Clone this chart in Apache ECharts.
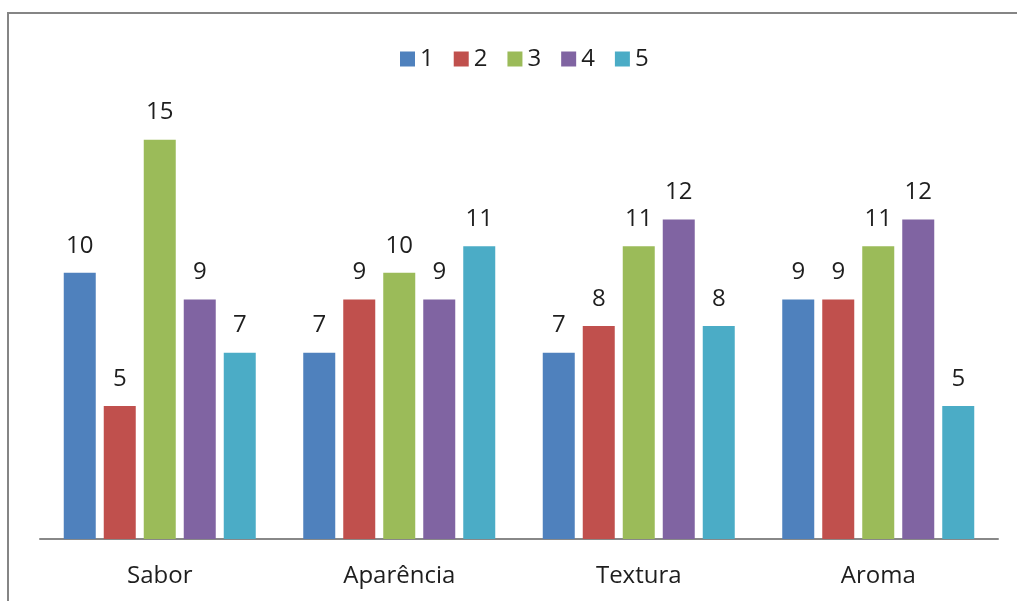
<!DOCTYPE html>
<html>
<head>
<meta charset="utf-8">
<script src="https://cdn.jsdelivr.net/npm/echarts@6/dist/echarts.min.js"></script>
<style>
html,body{margin:0;padding:0;background:#fff;}
#chart{width:1017px;height:601px;}
</style>
</head>
<body>
<div id="chart"></div>
<script>
var categories = ['Sabor', 'Aparência', 'Textura', 'Aroma'];
var seriesNames = ['1', '2', '3', '4', '5'];
var s1 = [10, 7, 7, 9];
var s2 = [5, 9, 8, 9];
var s3 = [15, 10, 11, 11];
var s4 = [9, 9, 12, 12];
var s5 = [7, 11, 8, 5];
var colors = ['#4F81BD', '#C0504D', '#9BBB59', '#8064A2', '#4BACC6'];

var allValues = [s1, s2, s3, s4, s5];
var FONT = 'Open Sans';

var chart = echarts.init(document.getElementById('chart'), null, {renderer: 'canvas'});
chart.setOption({
  animation: false,
  color: colors,
  textStyle: {fontFamily: FONT},
  graphic: [{
    type: 'rect',
    shape: {x: 8, y: 13, width: 1200, height: 800},
    style: {fill: 'none', stroke: '#858585', lineWidth: 2},
    silent: true,
    z: 100
  }],
  legend: {
    data: seriesNames,
    left: 400,
    top: 47,
    padding: 0,
    itemWidth: 15,
    itemHeight: 15,
    itemGap: 20,
    icon: 'rect',
    textStyle: {fontFamily: FONT, fontSize: 24, color: '#1e1e1e', padding: [0, 0, 0, 0]}
  },
  grid: {left: 40, right: 19, top: 113, bottom: 62, containLabel: false},
  xAxis: {
    type: 'category',
    data: categories,
    axisLine: {lineStyle: {color: '#888', width: 2}},
    axisTick: {show: false},
    axisLabel: {fontFamily: FONT, fontSize: 24, color: '#1e1e1e', margin: 25}
  },
  yAxis: {
    type: 'value',
    min: 0,
    max: 16,
    show: false,
    splitLine: {show: false}
  },
  series: allValues.map(function (vals, i) {
    return {
      name: seriesNames[i],
      type: 'bar',
      data: vals,
      barWidth: 32,
      barGap: '25%',
      label: {
        show: true,
        position: 'top',
        distance: 15,
        fontFamily: FONT,
        fontSize: 24,
        color: '#1e1e1e'
      }
    };
  })
});
</script>
</body>
</html>
